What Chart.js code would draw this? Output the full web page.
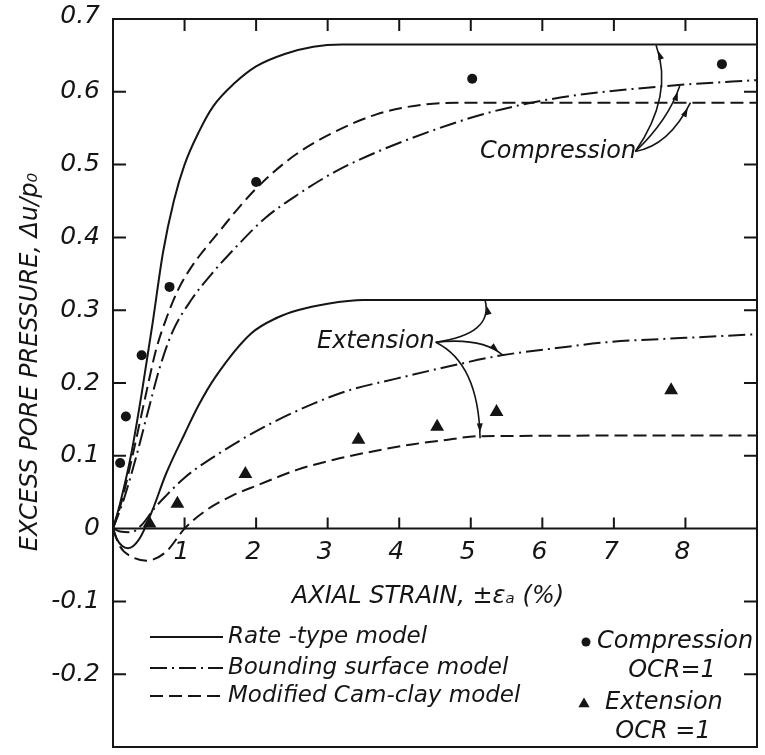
<!DOCTYPE html>
<html>
<head>
<meta charset="utf-8">
<script src="https://cdn.jsdelivr.net/npm/chart.js@4.4.1/dist/chart.umd.min.js"></script>
<style>
    html, body { margin: 0; padding: 0; background: #fff; }
    #wrap { width: 765px; height: 755px; }
</style>
</head>
<body>
<div id="wrap"><canvas id="chart" width="765" height="755"></canvas></div>
<script>
// axial strain (%) -> excess pore pressure du/p0
const rateCompX = [0, 0.1, 0.25, 0.4, 0.55, 0.7, 0.85, 1.0, 1.2, 1.4, 1.7, 2.0, 2.4, 2.8, 3.2, 9];
const rateCompY = [0, 0.035, 0.10, 0.185, 0.28, 0.38, 0.45, 0.50, 0.545, 0.58, 0.612, 0.635, 0.652, 0.662, 0.665, 0.665];

const bsCompX = [0, 0.15, 0.3, 0.5, 0.65, 0.83, 1.1, 1.38, 1.75, 2.12, 2.6, 3.1, 3.68, 4.5, 5.2, 5.9, 6.6, 7.27, 8.0, 8.65, 9];
const bsCompY = [0, 0.04, 0.09, 0.165, 0.22, 0.27, 0.315, 0.35, 0.39, 0.426, 0.46, 0.49, 0.517, 0.548, 0.57, 0.586, 0.597, 0.604, 0.61, 0.614, 0.616];

const camCompX = [0, 0.1, 0.25, 0.45, 0.6, 0.75, 0.92, 1.1, 1.25, 1.5, 1.75, 2.03, 2.5, 3.0, 3.68, 4.3, 4.8, 9];
const camCompY = [0, 0.03, 0.09, 0.18, 0.245, 0.29, 0.33, 0.36, 0.38, 0.41, 0.44, 0.47, 0.51, 0.54, 0.569, 0.582, 0.585, 0.585];

const rateExtX = [0, 0.05, 0.21, 0.37, 0.55, 0.74, 1.0, 1.2, 1.43, 1.93, 2.3, 2.58, 3.0, 3.5, 9];
const rateExtY = [0, -0.014, -0.027, -0.014, 0.025, 0.075, 0.13, 0.17, 0.208, 0.268, 0.29, 0.30, 0.309, 0.314, 0.314];

const bsExtX = [0, 0.1, 0.25, 0.4, 0.58, 0.74, 1.0, 1.43, 2.12, 2.81, 3.3, 3.96, 4.7, 5.43, 6.2, 6.9, 8.0, 9];
const bsExtY = [0, -0.004, -0.005, 0.005, 0.028, 0.045, 0.07, 0.10, 0.14, 0.172, 0.19, 0.206, 0.223, 0.238, 0.248, 0.256, 0.262, 0.267];

const camExtX = [0, 0.1, 0.25, 0.47, 0.74, 1.0, 1.3, 1.66, 2.03, 2.58, 3.1, 3.68, 4.2, 4.6, 5.13, 9];
const camExtY = [0, -0.025, -0.038, -0.044, -0.032, 0.0, 0.025, 0.045, 0.06, 0.081, 0.095, 0.107, 0.116, 0.121, 0.127, 0.128];

// measured points, OCR = 1
const compStrain = [0.1, 0.18, 0.4, 0.79, 2.0, 5.02, 8.51];
const compPore = [0.09, 0.154, 0.238, 0.332, 0.476, 0.618, 0.638];
const extStrain = [0.51, 0.9, 1.85, 3.43, 4.53, 5.36, 7.8];
const extPore = [0.007, 0.034, 0.075, 0.122, 0.14, 0.16, 0.19];

const xTicks = [1, 2, 3, 4, 5, 6, 7, 8];
const yTicks = [0.7, 0.6, 0.5, 0.4, 0.3, 0.2, 0.1, 0, -0.1, -0.2];
const yTickLabels = ['0.7', '0.6', '0.5', '0.4', '0.3', '0.2', '0.1', '0', '-0.1', '-0.2'];

const INK = '#151515';
const FONT = '"DejaVu Sans", sans-serif';
const DASH = [13, 6];
const DASHDOT = [17, 5, 2, 5];

const pts = (xs, ys) => xs.map((x, i) => ({ x, y: ys[i] }));

function curve(label, xs, ys, dash) {
    return {
        label,
        data: pts(xs, ys),
        showLine: true,
        borderColor: INK,
        borderWidth: 2,
        borderDash: dash,
        pointRadius: 0,
        cubicInterpolationMode: 'monotone',
        fill: false,
    };
}

function text(ctx, str, x, y, size, align) {
    ctx.font = `italic ${size}px ${FONT}`;
    ctx.textAlign = align || 'left';
    ctx.textBaseline = 'middle';
    ctx.fillText(str, x, y);
}

function arrow(ctx, p0, c, p1) {
    ctx.beginPath();
    ctx.moveTo(p0[0], p0[1]);
    ctx.quadraticCurveTo(c[0], c[1], p1[0], p1[1]);
    ctx.stroke();
    const a = Math.atan2(p1[1] - c[1], p1[0] - c[0]);
    const tipX = p1[0] - Math.cos(a) * 6, tipY = p1[1] - Math.sin(a) * 6;
    ctx.beginPath();
    ctx.moveTo(tipX, tipY);
    ctx.lineTo(tipX - Math.cos(a) * 9 - Math.sin(a) * 3, tipY - Math.sin(a) * 9 + Math.cos(a) * 3);
    ctx.lineTo(tipX - Math.cos(a) * 9 + Math.sin(a) * 3, tipY - Math.sin(a) * 9 - Math.cos(a) * 3);
    ctx.closePath();
    ctx.fill();
}

const decor = {
    id: 'decor',
    afterDraw(chart) {
        const { ctx, chartArea: a, scales: { x, y } } = chart;
        const px = v => x.getPixelForValue(v), py = v => y.getPixelForValue(v);
        const P = (vx, vy) => [px(vx), py(vy)];
        ctx.save();
        ctx.strokeStyle = INK;
        ctx.fillStyle = INK;
        ctx.lineWidth = 2;
        ctx.setLineDash([]);

        // frame + zero line
        ctx.strokeRect(a.left, a.top, a.right - a.left, a.bottom - a.top);
        ctx.beginPath();
        ctx.moveTo(a.left, py(0));
        ctx.lineTo(a.right, py(0));
        ctx.stroke();

        // ticks
        ctx.beginPath();
        xTicks.forEach(v => {
            ctx.moveTo(px(v), a.top); ctx.lineTo(px(v), a.top + 12);
            ctx.moveTo(px(v), py(0)); ctx.lineTo(px(v), py(0) - 11);
        });
        yTicks.forEach(v => {
            if (v === 0.7 || v === 0) return;
            ctx.moveTo(a.left, py(v)); ctx.lineTo(a.left + 13, py(v));
            ctx.moveTo(a.right, py(v)); ctx.lineTo(a.right - 13, py(v));
        });
        ctx.stroke();

        // tick labels
        yTicks.forEach((v, i) => text(ctx, yTickLabels[i], a.left - 13, py(v) - (v === 0.7 ? 3 : 0), 25, 'right'));
        xTicks.forEach(v => text(ctx, String(v), px(v) - 3, py(0) + 24, 25, 'center'));

        // axis titles
        text(ctx, 'AXIAL STRAIN, ±εₐ (%)', 428, 597, 24, 'center');
        ctx.save();
        ctx.translate(31, 362);
        ctx.rotate(-Math.PI / 2);
        text(ctx, 'EXCESS PORE PRESSURE, Δu/p₀', 0, 0, 24, 'center');
        ctx.restore();

        // annotations
        text(ctx, 'Compression', 480, 152, 24);
        text(ctx, 'Extension', 317, 342, 24);
        ctx.lineWidth = 1.6;
        const c0 = P(7.30, 0.518);
        arrow(ctx, c0, P(7.84, 0.595), P(7.59, 0.664));
        arrow(ctx, c0, P(7.76, 0.561), P(7.92, 0.608));
        arrow(ctx, c0, P(7.77, 0.526), P(8.07, 0.585));
        const e0 = P(4.51, 0.256);
        arrow(ctx, e0, P(5.32, 0.267), P(5.20, 0.314));
        arrow(ctx, e0, P(5.16, 0.263), P(5.45, 0.238));
        arrow(ctx, e0, P(5.11, 0.227), P(5.13, 0.124));

        // legend
        ctx.lineWidth = 2;
        const rows = [[637, [], 'Rate -type model'], [668, DASHDOT, 'Bounding surface model'], [696, DASH, 'Modified Cam-clay model']];
        rows.forEach(([ry, dash, label]) => {
            ctx.setLineDash(dash);
            ctx.beginPath();
            ctx.moveTo(150, ry); ctx.lineTo(223, ry);
            ctx.stroke();
            ctx.setLineDash([]);
            text(ctx, label, 228, ry, 23);
        });
        Chart.helpers.drawPoint(ctx, { pointStyle: 'circle', radius: 4.5, borderWidth: 0 }, 586, 642);
        text(ctx, 'Compression', 597, 642, 24);
        text(ctx, 'OCR=1', 672, 671, 24, 'center');
        Chart.helpers.drawPoint(ctx, { pointStyle: 'triangle', radius: 6.5, borderWidth: 0 }, 584, 704);
        text(ctx, 'Extension', 605, 703, 24);
        text(ctx, 'OCR =1', 663, 732, 24, 'center');
        ctx.restore();
    },
};

new Chart(document.getElementById('chart'), {
    type: 'scatter',
    data: {
        datasets: [
            curve('Rate-type, compression', rateCompX, rateCompY, []),
            curve('Bounding surface, compression', bsCompX, bsCompY, DASHDOT),
            curve('Modified Cam-clay, compression', camCompX, camCompY, DASH),
            curve('Rate-type, extension', rateExtX, rateExtY, []),
            curve('Bounding surface, extension', bsExtX, bsExtY, DASHDOT),
            curve('Modified Cam-clay, extension', camExtX, camExtY, DASH),
            {
                label: 'Compression OCR=1',
                data: pts(compStrain, compPore),
                pointStyle: 'circle',
                pointRadius: 5,
                backgroundColor: INK,
                borderColor: INK,
                borderWidth: 0,
            },
            {
                label: 'Extension OCR=1',
                data: pts(extStrain, extPore),
                pointStyle: 'triangle',
                pointRadius: 8,
                backgroundColor: INK,
                borderColor: INK,
                borderWidth: 0,
            },
        ],
    },
    options: {
        responsive: false,
        animation: false,
        layout: { padding: { left: 113, top: 19, right: 2, bottom: 4 } },
        scales: {
            x: { type: 'linear', min: 0, max: 9, display: false },
            y: { type: 'linear', min: -0.3, max: 0.7, display: false },
        },
        plugins: { legend: { display: false }, tooltip: { enabled: false } },
        events: [],
    },
    plugins: [decor],
});
</script>
</body>
</html>
